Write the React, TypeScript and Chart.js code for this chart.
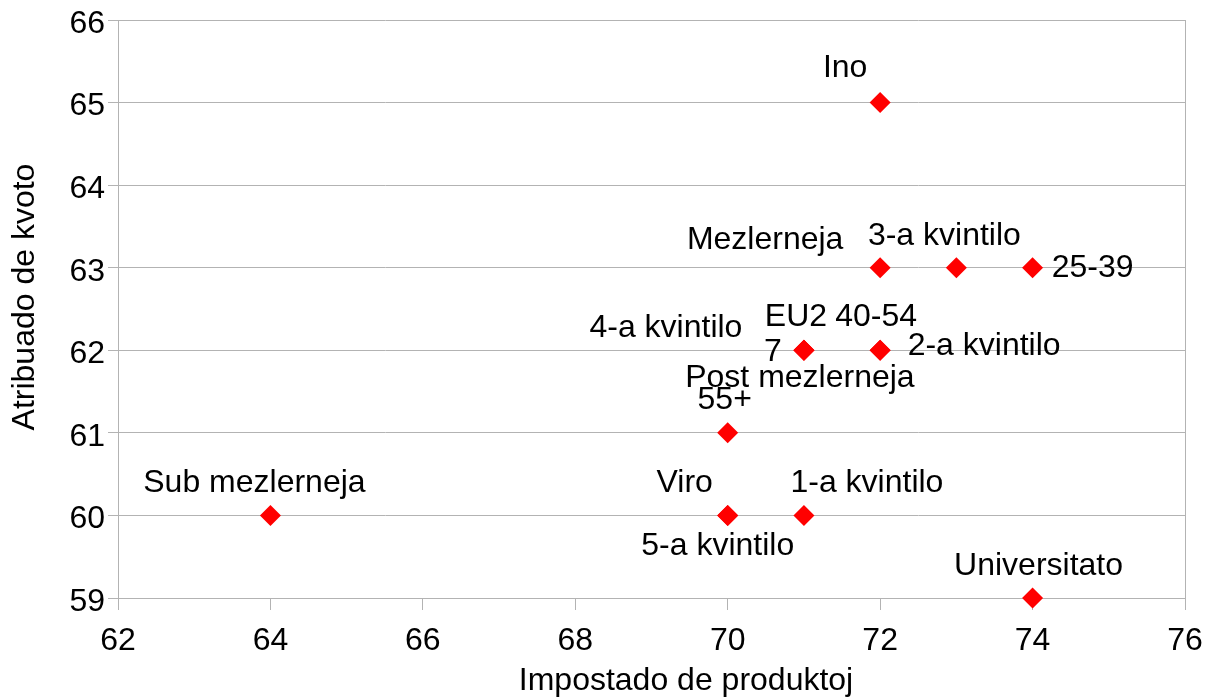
import React, { useEffect, useRef } from "react";
import { Chart, registerables } from "chart.js";

Chart.register(...registerables);

const pointLabels: string[] = [
  "Ino",
  "Mezlerneja",
  "3-a kvintilo",
  "25-39",
  "EU27",
  "40-54",
  "4-a kvintilo",
  "2-a kvintilo",
  "Post mezlerneja",
  "55+",
  "Sub mezlerneja",
  "Viro",
  "5-a kvintilo",
  "1-a kvintilo",
  "Universitato",
];
const xValues: number[] = [72, 72, 73, 74, 71, 72, 71, 72, 71, 70, 64, 70, 70, 71, 74];
const yValues: number[] = [65, 63, 63, 63, 62, 62, 62, 62, 62, 61, 60, 60, 60, 60, 59];

const xTitle = "Impostado de produktoj";
const yTitle = "Atribuado de kvoto";

const FONT = "'Liberation Sans', Arial, sans-serif";
const GRID = "#b3b3b3";

// label placement (text-centre offsets from each marker, in px)
const labelOffsets: Array<Array<[number, number]>> = [
  [[-35, -34]],
  [[-115, -28]],
  [[-12, -32]],
  [[60, 0]],
  [[-8, -33], [-31, 2]],
  [[-4, -33]],
  [[-138, -22]],
  [[104, -4]],
  [[-4, 28]],
  [[-3, -33]],
  [[-16, -32]],
  [[-43, -32]],
  [[-10, 31]],
  [[63, -32]],
  [[6, -32]],
];

const labelPlugin = {
  id: "pointLabelsAndTitles",
  afterDatasetsDraw(chart: any) {
    const ctx = chart.ctx;
    const meta = chart.getDatasetMeta(0);
    ctx.save();
    ctx.fillStyle = "#000";
    ctx.font = `32px ${FONT}`;
    ctx.textAlign = "center";
    ctx.textBaseline = "middle";
    meta.data.forEach((pt: any, i: number) => {
      const label = pointLabels[i];
      const offs = labelOffsets[i];
      const parts = offs.length > 1 ? [label.slice(0, label.length - 1), label.slice(label.length - 1)] : [label];
      parts.forEach((t, k) => {
        ctx.fillText(t, pt.x + offs[k][0], pt.y + offs[k][1]);
      });
    });
    // y tick labels (sit slightly below their tick lines, as in the original)
    const ys = chart.scales.y;
    ctx.textAlign = "right";
    ys.ticks.forEach((t: any) => {
      ctx.fillText(String(t.value), ys.right - 13, ys.getPixelForValue(t.value) + 4);
    });
    // axis titles
    ctx.textAlign = "center";
    ctx.fillText(xTitle, 686, 681);
    ctx.translate(25, 297);
    ctx.rotate(-Math.PI / 2);
    ctx.fillText(yTitle, 0, 0);
    ctx.restore();
  },
};

export default function App() {
  const ref = useRef<HTMLCanvasElement | null>(null);
  useEffect(() => {
    if (!ref.current) return;
    const data = xValues.map((x, i) => ({ x, y: yValues[i] }));
    const chart = new Chart(ref.current, {
      type: "scatter",
      data: {
        datasets: [
          {
            data,
            pointStyle: "rectRot",
            pointRadius: 10.5,
            pointHoverRadius: 10.5,
            backgroundColor: "#ff0000",
            borderColor: "#ff0000",
            borderWidth: 0,
            clip: false as any,
          },
        ],
      },
      options: {
        animation: false,
        responsive: false,
        events: [],
        layout: { padding: { left: 0, right: 27, top: 20, bottom: 0 } },
        plugins: { legend: { display: false }, tooltip: { enabled: false } },
        scales: {
          x: {
            type: "linear",
            min: 62,
            max: 76,
            afterFit: (s: any) => {
              s.height = 100;
            },
            ticks: {
              stepSize: 2,
              color: "#000",
              font: { family: FONT, size: 32, lineHeight: 1.375 },
              padding: 9,
              maxRotation: 0,
            },
            grid: {
              color: (c: any) => (c.tick && (c.tick.value === 62 || c.tick.value === 76) ? GRID : "rgba(0,0,0,0)"),
              tickColor: GRID,
              tickLength: 12,
              lineWidth: 1,
            },
            border: { display: true, color: GRID },
          },
          y: {
            type: "linear",
            min: 59,
            max: 66,
            afterFit: (s: any) => {
              s.width = 118;
            },
            ticks: {
              stepSize: 1,
              color: "rgba(0,0,0,0)",
              font: { family: FONT, size: 32, lineHeight: 1.1 },
              padding: 0,
            },
            grid: {
              color: GRID,
              tickColor: GRID,
              tickLength: 10,
              lineWidth: 1,
            },
            border: { display: true, color: GRID },
          },
        },
      },
      plugins: [labelPlugin],
    });
    return () => chart.destroy();
  }, []);
  return (
    <div style={{ position: "absolute", left: 0, top: 0, width: 1212, height: 698, background: "#fff" }}>
      <canvas ref={ref} width={1212} height={698} />
    </div>
  );
}
